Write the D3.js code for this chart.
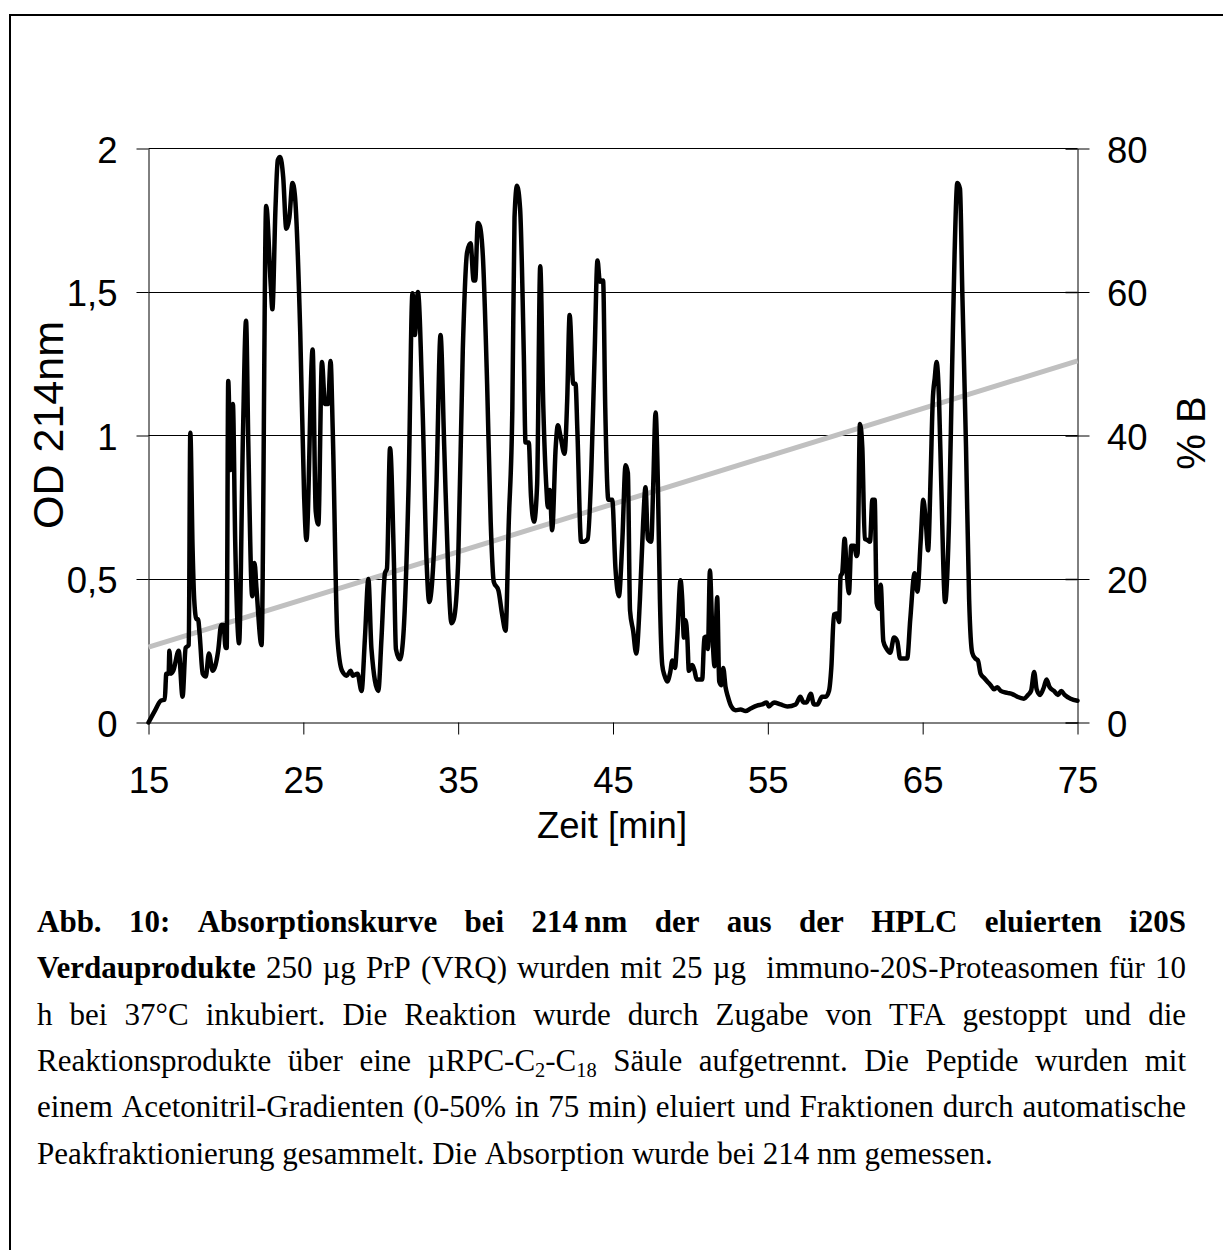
<!DOCTYPE html>
<html>
<head>
<meta charset="utf-8">
<script src="https://cdn.jsdelivr.net/npm/d3@7"></script>
<style>
  html, body { margin: 0; padding: 0; background: #fff; }
  svg { display: block; }
</style>
</head>
<body>
<svg id="chart" width="1223" height="1250"></svg>
<script>
// ---------- DATA ----------
const timeMin = [15.0,15.4,15.8,16.05,16.15,16.3,16.35,16.45,16.6,16.95,17.2,17.4,17.6,17.7,17.85,17.95,18.1,18.2,18.3,18.5,18.7,18.9,19.15,19.5,19.7,19.85,19.98,20.05,20.15,20.3,20.45,20.6,20.85,21.1,21.3,21.45,21.7,21.85,21.97,22.3,22.6,22.9,23.0,23.2,23.35,23.5,23.7,23.9,24.1,24.3,24.45,24.8,25.05,25.2,25.6,25.8,25.97,26.2,26.4,26.6,26.76,26.9,27.2,27.5,27.8,28.05,28.2,28.5,28.76,28.98,29.2,29.4,29.84,30.05,30.27,30.4,30.6,30.85,30.98,31.24,31.45,31.8,32.05,32.2,32.4,32.7,32.96,33.13,33.4,33.6,33.86,34.1,34.35,34.57,34.72,35.0,35.3,35.58,35.8,36.0,36.1,36.27,36.4,36.6,36.87,37.1,37.3,37.6,37.84,38.06,38.27,38.5,38.64,38.8,39.0,39.24,39.35,39.56,39.7,39.9,40.1,40.3,40.5,40.7,40.79,40.92,41.07,41.3,41.44,41.6,41.87,42.04,42.2,42.43,42.58,42.7,42.94,43.1,43.37,43.6,43.8,44.0,44.15,44.36,44.5,44.7,44.95,45.16,45.38,45.6,45.81,45.96,46.1,46.3,46.5,46.74,46.95,47.1,47.25,47.47,47.6,47.75,47.9,48.03,48.18,48.33,48.5,48.7,48.83,49.0,49.15,49.36,49.47,49.58,49.69,49.8,49.9,50.12,50.27,50.4,50.76,50.9,51.04,51.13,51.26,51.4,51.56,51.73,51.86,51.99,52.12,52.27,52.42,52.64,52.92,53.24,53.56,53.89,54.3,54.64,54.92,55.07,55.4,55.82,56.26,56.8,57.1,57.3,57.5,57.77,57.98,58.2,58.5,58.74,58.95,59.1,59.27,59.45,59.6,59.7,59.8,59.96,60.1,60.24,60.39,60.57,60.74,60.8,60.95,61.1,61.26,61.43,61.6,61.75,61.9,62.03,62.18,62.29,62.46,62.68,62.9,63.15,63.36,63.54,63.8,64.0,64.2,64.48,64.66,64.87,65.04,65.2,65.35,65.52,65.65,65.78,65.9,66.06,66.2,66.45,66.7,66.9,67.06,67.24,67.41,67.56,67.8,68.0,68.2,68.4,68.57,68.74,68.96,69.17,69.39,69.6,69.82,70.04,70.47,70.79,71.1,71.54,71.8,72.0,72.2,72.36,72.58,72.83,73.0,73.2,73.48,73.74,73.95,74.17,74.56,75.0];
const od214 = [0.0,0.04,0.076,0.08,0.17,0.17,0.25,0.17,0.18,0.25,0.09,0.26,0.27,1.01,0.6,0.43,0.36,0.36,0.31,0.17,0.16,0.24,0.18,0.25,0.34,0.34,0.26,0.26,1.19,0.88,1.11,0.63,0.276,1.0,1.40,0.96,0.44,0.556,0.47,0.27,1.80,1.52,1.44,1.79,1.96,1.97,1.90,1.72,1.76,1.88,1.84,1.36,0.79,0.636,1.30,0.736,0.69,1.256,1.11,1.11,1.26,1.016,0.296,0.18,0.163,0.18,0.163,0.17,0.11,0.296,0.50,0.256,0.11,0.296,0.52,0.536,0.956,0.56,0.256,0.22,0.296,0.83,1.496,1.35,1.50,1.096,0.56,0.42,0.56,0.83,1.35,0.96,0.536,0.346,0.36,0.56,1.30,1.64,1.67,1.54,1.54,1.74,1.73,1.62,1.18,0.70,0.49,0.46,0.376,0.32,0.70,1.096,1.76,1.87,1.79,1.28,0.976,0.976,0.79,0.70,0.83,1.59,1.096,0.816,0.75,0.81,0.67,0.96,1.036,1.00,0.936,1.12,1.42,1.18,1.18,1.016,0.63,0.63,0.64,0.88,1.256,1.61,1.536,1.54,1.096,0.776,0.776,0.536,0.44,0.63,0.896,0.87,0.39,0.32,0.24,0.43,0.70,0.82,0.64,0.63,0.83,1.08,0.83,0.43,0.20,0.163,0.143,0.176,0.216,0.19,0.296,0.496,0.43,0.296,0.356,0.296,0.18,0.20,0.18,0.15,0.15,0.296,0.30,0.256,0.53,0.336,0.196,0.436,0.143,0.13,0.19,0.123,0.09,0.056,0.043,0.045,0.04,0.049,0.059,0.063,0.07,0.056,0.07,0.063,0.056,0.063,0.09,0.07,0.07,0.10,0.063,0.063,0.09,0.09,0.11,0.19,0.376,0.38,0.35,0.51,0.52,0.64,0.52,0.45,0.616,0.616,0.58,0.59,1.04,0.96,0.64,0.636,0.63,0.776,0.776,0.416,0.396,0.48,0.283,0.256,0.243,0.296,0.283,0.223,0.223,0.223,0.36,0.52,0.456,0.63,0.776,0.70,0.60,0.87,1.12,1.20,1.256,1.12,0.83,0.42,0.70,1.23,1.63,1.88,1.86,1.50,0.96,0.43,0.243,0.223,0.216,0.17,0.156,0.143,0.13,0.116,0.123,0.11,0.103,0.099,0.09,0.083,0.096,0.11,0.176,0.116,0.096,0.123,0.15,0.123,0.11,0.096,0.11,0.096,0.083,0.076];

const gradientTime = [15, 75];
const gradientB = [10.5, 50.4];

const xTicks = [15, 25, 35, 45, 55, 65, 75];
const odTicks = [0, 0.5, 1, 1.5, 2];
const bTicks = [0, 20, 40, 60, 80];

const xTitle = "Zeit [min]";
const yLeftTitle = "OD 214nm";
const yRightTitle = "% B";

// caption: lines of runs (b = bold, s = subscript)
const captionLines = [
  [{t: "Abb. 10: Absorptionskurve bei 214\u2009nm der aus der HPLC eluierten i20S", b: true}],
  [{t: "Verdauprodukte", b: true}, {t: " 250 µg PrP (VRQ) wurden mit 25 µg  immuno-20S-Proteasomen für 10"}],
  [{t: "h bei 37°C inkubiert. Die Reaktion wurde durch Zugabe von TFA gestoppt und die"}],
  [{t: "Reaktionsprodukte über eine µRPC-C"}, {t: "2", s: true}, {t: "-C"}, {t: "18", s: true}, {t: " Säule aufgetrennt. Die Peptide wurden mit"}],
  [{t: "einem Acetonitril-Gradienten (0-50% in 75 min) eluiert und Fraktionen durch automatische"}],
  [{t: "Peakfraktionierung gesammelt. Die Absorption wurde bei 214 nm gemessen."}]
];

// ---------- LAYOUT ----------
const svg = d3.select("#chart");
const plot = {left: 148.5, right: 1077.5, top: 148.5, bottom: 722.5};
const axisFont = "'Liberation Sans', Arial, Helvetica, sans-serif";
const axisFontSize = 36.5;

const x = d3.scaleLinear().domain([15, 75]).range([plot.left, plot.right]);
const yL = d3.scaleLinear().domain([0, 2]).range([plot.bottom, plot.top]);
const yR = d3.scaleLinear().domain([0, 80]).range([plot.bottom, plot.top]);

svg.append("rect").attr("width", 1223).attr("height", 1250).attr("fill", "#fff");

// outer frame
svg.append("rect")
  .attr("x", 10).attr("y", 15).attr("width", 1300).attr("height", 1300)
  .attr("fill", "none").attr("stroke", "#000").attr("stroke-width", 2);

// gridlines
svg.append("g").selectAll("line").data(odTicks.filter(d => d > 0)).join("line")
  .attr("x1", plot.left).attr("x2", plot.right)
  .attr("y1", d => Math.round(yL(d) - 0.5) + 0.5).attr("y2", d => Math.round(yL(d) - 0.5) + 0.5)
  .attr("stroke", "#000").attr("stroke-width", 1);

function styleAxis(g) {
  g.selectAll("path.domain").attr("stroke", "#000").attr("stroke-width", 1);
  g.selectAll(".tick line").attr("stroke", "#000").attr("stroke-width", 1);
  g.selectAll("text").attr("font-family", axisFont).attr("font-size", axisFontSize).attr("fill", "#000");
}

// bottom axis
const gx = svg.append("g").attr("transform", `translate(0,${plot.bottom})`)
  .call(d3.axisBottom(x).tickValues(xTicks).tickSize(12).tickSizeOuter(0).tickPadding(32.5).tickFormat(d3.format("d")));
styleAxis(gx);
gx.selectAll("text").attr("dy", "0.71em");

// left axis
const gl = svg.append("g").attr("transform", `translate(${plot.left},0)`)
  .call(d3.axisLeft(yL).tickValues(odTicks).tickSize(12).tickSizeOuter(0).tickPadding(19)
    .tickFormat(d => String(d).replace(".", ",")));
styleAxis(gl);
gl.selectAll("text").attr("dy", "0.37em");

// right axis
const gr = svg.append("g").attr("transform", `translate(${plot.right},0)`)
  .call(d3.axisRight(yR).tickValues(bTicks).tickSize(12).tickSizeOuter(0).tickPadding(17.5).tickFormat(d3.format("d")));
styleAxis(gr);
gr.selectAll("text").attr("dy", "0.37em");
gr.selectAll(".tick").append("line").attr("x1", -12).attr("x2", 0).attr("stroke", "#000").attr("stroke-width", 1.5);

// axis titles
svg.append("text").attr("x", 612).attr("y", 838).attr("text-anchor", "middle")
  .attr("font-family", axisFont).attr("font-size", axisFontSize).text(xTitle);
svg.append("text").attr("transform", `translate(63,425) rotate(-90)`)
  .attr("text-anchor", "middle").attr("font-family", axisFont).attr("font-size", 43).text(yLeftTitle);
svg.append("text").attr("transform", `translate(1205,433) rotate(-90)`)
  .attr("text-anchor", "middle").attr("font-family", axisFont).attr("font-size", 40).text(yRightTitle);

// gradient line (% B)
const gradData = gradientTime.map((t, i) => ({t, v: gradientB[i]}));
svg.append("path").datum(gradData)
  .attr("d", d3.line().x(d => x(d.t)).y(d => yR(d.v)))
  .attr("fill", "none").attr("stroke", "#c0c0c0").attr("stroke-width", 5);

// absorption curve
const curveData = timeMin.map((t, i) => ({t, v: od214[i]}));
svg.append("path").datum(curveData)
  .attr("d", d3.line().x(d => x(d.t)).y(d => yL(d.v)).curve(d3.curveMonotoneX))
  .attr("fill", "none").attr("stroke", "#000").attr("stroke-width", 4.5)
  .attr("stroke-linejoin", "round").attr("stroke-linecap", "round");

// ---------- CAPTION (justified) ----------
const capFont = "'Liberation Serif', 'Times New Roman', Times, serif";
const capSize = 31;
const capLeft = 37, capRight = 1186;
const capBase0 = 932, capLineH = 46.3;

captionLines.forEach((runs, li) => {
  // words with the number of spaces that precede each one
  const words = [];
  let cur = [], pendingSpaces = 0;
  runs.forEach(r => {
    const parts = r.t.split(" ");
    parts.forEach((p, pi) => {
      if (pi > 0) {
        if (cur.length) { words.push({runs: cur, sp: cur.sp || 0}); cur = []; }
        pendingSpaces++;
      }
      if (p.length) {
        if (!cur.length) { cur.sp = pendingSpaces; pendingSpaces = 0; }
        cur.push({t: p, b: r.b, s: r.s});
      }
    });
  });
  if (cur.length) words.push({runs: cur, sp: cur.sp || 0});
  words[0].sp = 0;

  const y = capBase0 + li * capLineH;
  const g = svg.append("g");
  const nodes = words.map(w => {
    const txt = g.append("text").attr("y", y).attr("font-family", capFont).attr("font-size", capSize).attr("fill", "#000");
    let shifted = false;
    w.runs.forEach(r => {
      const ts = txt.append("tspan").text(r.t).attr("font-weight", r.b ? "bold" : "normal");
      if (r.s) { ts.attr("font-size", capSize * 0.66); if (!shifted) { ts.attr("dy", 6); shifted = true; } }
      else if (shifted) { ts.attr("dy", -6); shifted = false; }
    });
    return txt;
  });
  const widths = nodes.map(n => n.node().getComputedTextLength());
  const total = d3.sum(widths);
  const units = d3.sum(words, w => w.sp);
  const last = li === captionLines.length - 1;
  const unit = last ? capSize * 0.25 : (capRight - capLeft - total) / units;
  let xpos = capLeft;
  nodes.forEach((n, i) => { xpos += words[i].sp * unit; n.attr("x", xpos); xpos += widths[i]; });
});
</script>
</body>
</html>
